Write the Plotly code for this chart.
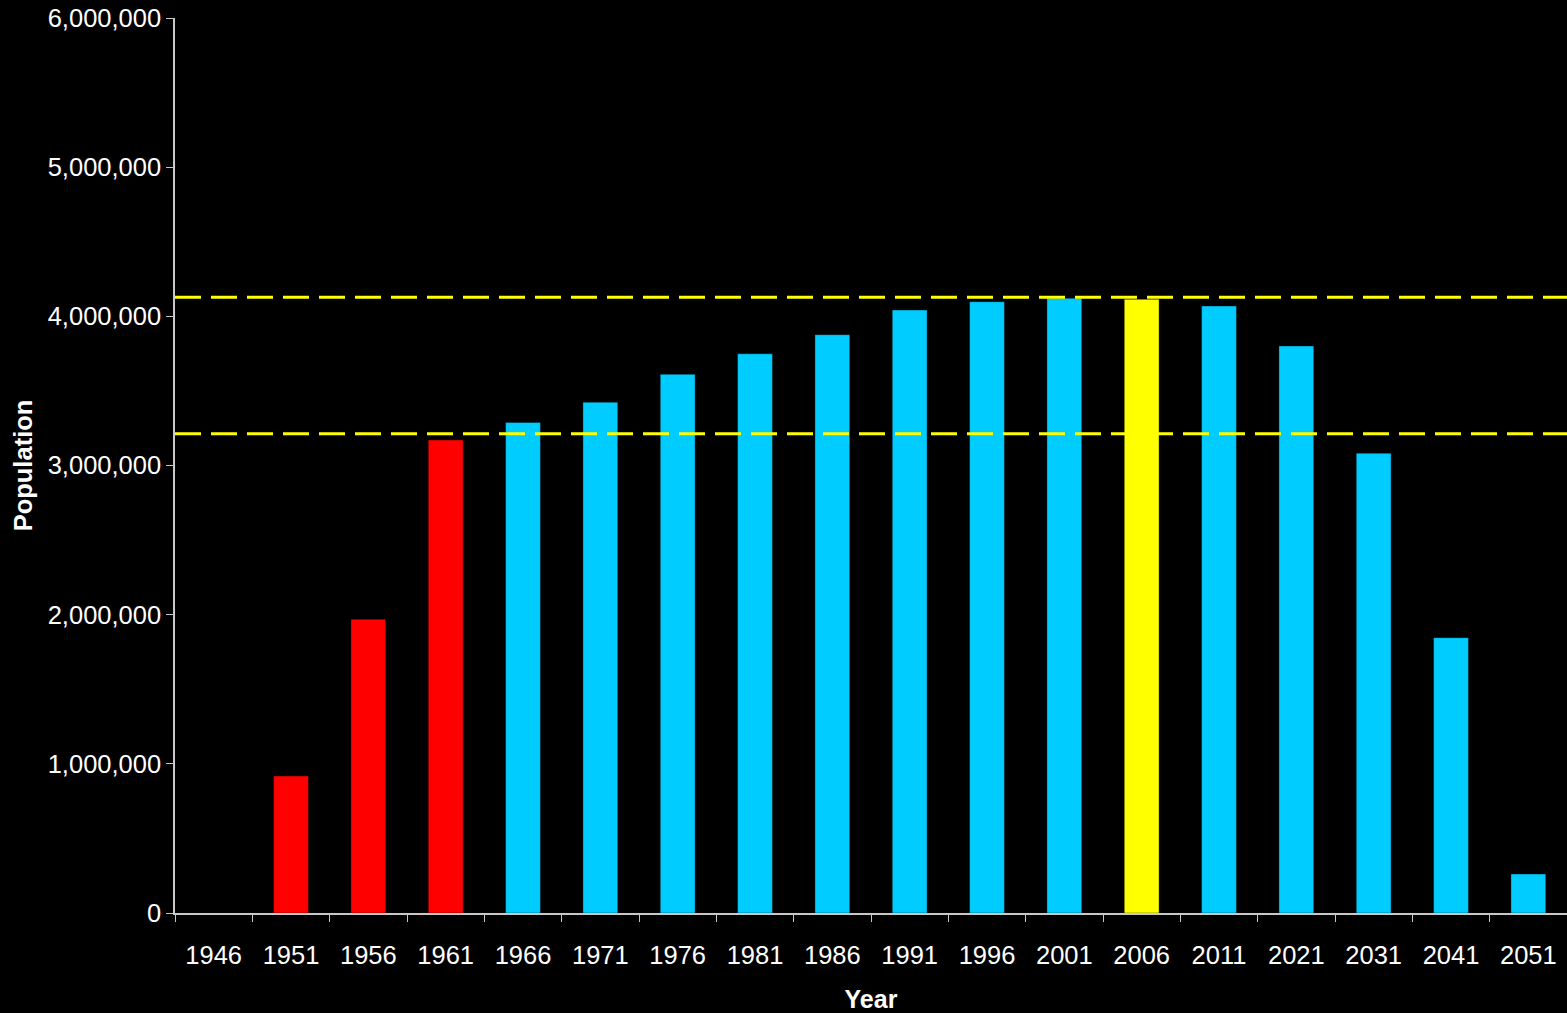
import plotly.graph_objects as go

years = ["1946", "1951", "1956", "1961", "1966", "1971", "1976", "1981", "1986",
         "1991", "1996", "2001", "2006", "2011", "2021", "2031", "2041", "2051"]
population = [None, 918000, 1969000, 3171000, 3289000, 3424000, 3611000, 3749000,
              3877000, 4042000, 4098000, 4121000, 4114000, 4069000, 3801000,
              3082000, 1846000, 261000]
period = ["hist", "hist", "hist", "hist", "base", "base", "base", "base", "base",
          "base", "base", "base", "now", "base", "base", "base", "base", "base"]
ref_levels = [4128000, 3213000]

y_ticks = [0, 1000000, 2000000, 3000000, 4000000, 5000000, 6000000]

palette = {"hist": "#FF0000", "base": "#00CCFF", "now": "#FFFF00"}
bar_colors = [palette[p] for p in period]

FONT = "Liberation Sans, Arial, sans-serif"

fig = go.Figure()
fig.add_trace(go.Bar(
    x=years, y=population,
    marker=dict(color=bar_colors, line=dict(color="rgba(0,0,0,0.35)", width=1)),
    showlegend=False,
))

for lvl in ref_levels:
    fig.add_hline(y=lvl, line=dict(color="#FFFF00", width=3, dash="26px,10px"), layer="above")

fig.update_layout(
    width=1567, height=1013,
    paper_bgcolor="black", plot_bgcolor="black",
    margin=dict(l=175, r=0, t=18, b=100),
    bargap=0.55,
    font=dict(family=FONT, color="white", size=25.5),
    xaxis=dict(
        type="category",
        range=[-0.5, 17.5],
        showline=True, linecolor="#C8C8C8", linewidth=1.5,
        ticks="outside", tickson="boundaries", ticklen=7, tickcolor="#C8C8C8",
        tickfont=dict(size=25.5, color="white", family=FONT),
        showgrid=False, zeroline=False,
        title=dict(text="<b>Year</b>", font=dict(size=25, color="white", family=FONT), standoff=22),
        ticklabelstandoff=19,
    ),
    yaxis=dict(
        range=[0, 6000000],
        tickvals=y_ticks, tickformat=",",
        showline=True, linecolor="#C8C8C8", linewidth=1.5,
        ticks="outside", ticklen=7, tickcolor="#C8C8C8",
        tickfont=dict(size=25.5, color="white", family=FONT),
        showgrid=False, zeroline=False,
        title=dict(text="<b>Population</b>", font=dict(size=25.5, color="white", family=FONT), standoff=8),
    ),
)

fig.write_html(
    "out.html",
    config={"displayModeBar": False},
    post_script="document.body.style.margin='0';document.body.style.background='black';"
                "document.body.style.overflow='hidden';"
                "document.documentElement.style.background='black';",
)
